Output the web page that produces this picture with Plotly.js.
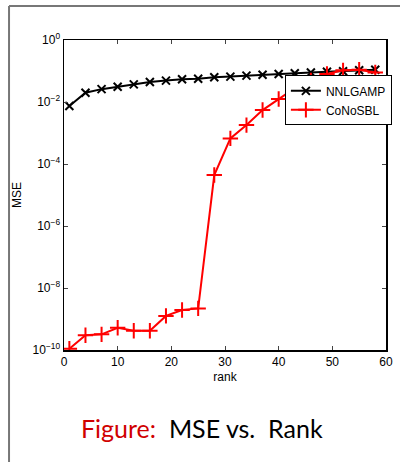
<!DOCTYPE html>
<html><head><meta charset="utf-8">
<script src="https://cdn.plot.ly/plotly-3.0.1.min.js"></script>
<style>html,body{margin:0;padding:0;background:#fff;}#chart{width:400px;height:462px;}</style>
</head><body><div id="chart"></div>
<script>
var rank = [1,4,7,10,13,16,19,22,25,28,31,34,37,40,43,46,49,52,55,58];
var nnlgamp = [7.4e-3,0.020,0.026,0.031,0.037,0.044,0.049,0.054,0.056,0.063,0.066,0.071,0.076,0.080,0.085,0.090,0.094,0.098,0.106,0.110];
var conosbl = [1.1e-10,3.0e-10,3.2e-10,5.2e-10,4.2e-10,4.2e-10,1.26e-9,1.95e-9,2.2e-9,4.4e-5,6.7e-4,1.8e-3,5.5e-3,0.0125,0.028,0.05,0.08,0.105,0.11,0.09];
var seriesNames = ['NNLGAMP','CoNoSBL'];
var yTicks = [1e-10,1e-8,1e-6,1e-4,1e-2,1];
var yTickText = ['10<sup>−10</sup>','10<sup>−8</sup>','10<sup>−6</sup>','10<sup>−4</sup>','10<sup>−2</sup>','10<sup>0</sup>'];
var xTicks = [0,10,20,30,40,50,60];

var traces = [
  {x: rank, y: nnlgamp, name: seriesNames[0], mode: 'lines+markers', type: 'scatter',
   line: {color: '#000000', width: 2},
   marker: {symbol: 'x-thin', size: 8, line: {color: '#000000', width: 2}, color: '#000000'}},
  {x: rank, y: conosbl, name: seriesNames[1], mode: 'lines+markers', type: 'scatter',
   line: {color: '#ff0000', width: 2},
   marker: {symbol: 'cross-thin', size: 11, line: {color: '#ff0000', width: 2}, color: '#ff0000'}}
];

var fnt = {family: 'Liberation Sans, Arial, sans-serif', size: 12, color: '#000'};
var layout = {
  width: 400, height: 462,
  margin: {l: 64, r: 8, t: 40, b: 112, pad: 0},
  paper_bgcolor: '#fff', plot_bgcolor: '#fff',
  showlegend: true,
  legend: {x: 0.686, y: 0.886, xanchor: 'left', yanchor: 'top', bgcolor: '#fff',
           bordercolor: '#000', borderwidth: 1, font: fnt, tracegroupgap: 0},
  xaxis: {range: [0, 60], tickvals: xTicks, ticktext: xTicks.map(String), ticks: 'inside', ticklen: 4,
          showline: true, linecolor: '#000', linewidth: 1.5, mirror: 'ticks', showgrid: false, zeroline: false,
          tickfont: fnt, title: {text: 'rank', font: fnt, standoff: 4}},
  yaxis: {type: 'log', range: [-10, 0], tickvals: yTicks, ticktext: yTickText, ticks: 'inside', ticklen: 4,
          showline: true, linecolor: '#000', linewidth: 1.5, mirror: 'ticks', showgrid: false, zeroline: false,
          tickfont: fnt, title: {text: 'MSE', font: fnt, standoff: 8}},
  shapes: [
    {type: 'line', xref: 'paper', yref: 'paper', x0: -0.1707, x1: 1.05, y0: 1.1097, y1: 1.1097, line: {color: '#777', width: 2}},
    {type: 'line', xref: 'paper', yref: 'paper', x0: -0.1707, x1: -0.1707, y0: 1.1097, y1: -0.37, line: {color: '#777', width: 2}}
  ],
  annotations: [
    {xref: 'paper', yref: 'paper', x: 0.43, y: -0.25, xanchor: 'center', yanchor: 'middle', showarrow: false,
     text: '<span style="color:#d00000">Figure:</span>  MSE vs.  Rank',
     font: {family: 'Lato, sans-serif', size: 25, color: '#000'}}
  ]
};
Plotly.newPlot('chart', traces, layout, {displayModeBar: false, staticPlot: true});
</script></body></html>
